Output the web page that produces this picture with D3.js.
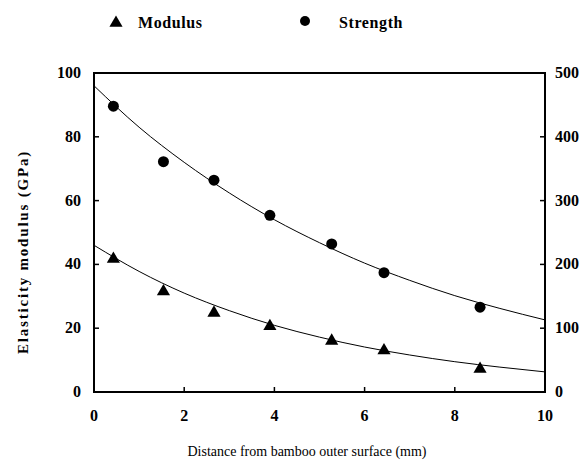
<!DOCTYPE html>
<html>
<head>
<meta charset="utf-8">
<script src="https://cdn.jsdelivr.net/npm/d3@7"></script>
<style>
  body { margin: 0; background: #fff; }
  text { font-family: "Liberation Serif", "DejaVu Serif", serif; fill: #000; }
  .tick-label { font-size: 16px; font-weight: bold; }
</style>
</head>
<body>
<svg id="chart" width="588" height="465"></svg>
<script>
// measured points
const distance = [0.43, 1.54, 2.66, 3.9, 5.27, 6.43, 8.56];
const modulus = [41.7, 31.5, 24.8, 20.6, 16.0, 13.0, 7.2];      // GPa, left axis
const strength = [448, 361, 332, 277, 232, 187, 133];           // MPa, right axis

// fitted curves
const fitX = [0, 1, 2, 3, 4, 5, 6, 7, 8, 9, 10];
const modulusFit = [46, 37.8, 31.0, 25.5, 20.9, 17.2, 14.1, 11.6, 9.5, 7.8, 6.3];
const strengthFit = [480, 415, 360, 312, 270, 234, 202, 175, 151, 131, 113];

const xTicks = [0, 2, 4, 6, 8, 10];
const leftTicks = [0, 20, 40, 60, 80, 100];
const rightTicks = [0, 100, 200, 300, 400, 500];

const svg = d3.select("#chart");
const pLeft = 94, pRight = 545, pTop = 73, pBottom = 392;

const x = d3.scaleLinear().domain([0, 10]).range([pLeft, pRight]);
const yL = d3.scaleLinear().domain([0, 100]).range([pBottom, pTop]);
const yR = d3.scaleLinear().domain([0, 500]).range([pBottom, pTop]);

// frame
svg.append("rect")
  .attr("x", pLeft).attr("y", pTop)
  .attr("width", pRight - pLeft).attr("height", pBottom - pTop)
  .attr("fill", "none").attr("stroke", "#000").attr("stroke-width", 2);

// inward ticks
let g = svg.append("g").attr("stroke", "#000").attr("stroke-width", 1.5);
leftTicks.slice(1, -1).forEach(t => {
  g.append("line").attr("x1", pLeft).attr("x2", pLeft + 5).attr("y1", yL(t)).attr("y2", yL(t));
});
rightTicks.slice(1, -1).forEach(t => {
  g.append("line").attr("x1", pRight).attr("x2", pRight - 5).attr("y1", yR(t)).attr("y2", yR(t));
});
xTicks.slice(1, -1).forEach(t => {
  g.append("line").attr("x1", x(t)).attr("x2", x(t)).attr("y1", pBottom).attr("y2", pBottom - 5);
});

// tick labels
svg.selectAll(".yl").data(leftTicks).enter().append("text")
  .attr("class", "tick-label")
  .attr("x", pLeft - 13).attr("y", d => yL(d) + 5)
  .attr("text-anchor", "end")
  .text(d => d);
svg.selectAll(".yr").data(rightTicks).enter().append("text")
  .attr("class", "tick-label")
  .attr("x", pRight + 10).attr("y", d => yR(d) + 5)
  .attr("text-anchor", "start")
  .text(d => d);
svg.selectAll(".xl").data(xTicks).enter().append("text")
  .attr("class", "tick-label")
  .attr("x", d => x(d)).attr("y", pBottom + 29)
  .attr("text-anchor", "middle")
  .text(d => d);

// axis titles
svg.append("text")
  .attr("transform", "translate(28,252) rotate(-90)")
  .attr("text-anchor", "middle")
  .style("font-size", "15px").style("font-weight", "bold").style("letter-spacing", "1.8px")
  .text("Elasticity modulus (GPa)");
svg.append("text")
  .attr("x", 307).attr("y", 456)
  .attr("text-anchor", "middle")
  .style("font-size", "14px")
  .text("Distance from bamboo outer surface (mm)");

// fit lines
const lineL = d3.line().x((d, i) => x(fitX[i])).y(d => yL(d)).curve(d3.curveMonotoneX);
const lineR = d3.line().x((d, i) => x(fitX[i])).y(d => yR(d)).curve(d3.curveMonotoneX);
svg.append("path").attr("d", lineL(modulusFit))
  .attr("fill", "none").attr("stroke", "#000").attr("stroke-width", 1);
svg.append("path").attr("d", lineR(strengthFit))
  .attr("fill", "none").attr("stroke", "#000").attr("stroke-width", 1);

// markers
const tri = d3.symbol().type(d3.symbolTriangle).size(75);
svg.selectAll(".mod").data(modulus).enter().append("path")
  .attr("d", tri)
  .attr("transform", (d, i) => "translate(" + x(distance[i]) + "," + yL(d) + ")")
  .attr("fill", "#000");
svg.selectAll(".str").data(strength).enter().append("circle")
  .attr("cx", (d, i) => x(distance[i])).attr("cy", d => yR(d))
  .attr("r", 5.5).attr("fill", "#000");

// legend
svg.append("path").attr("d", tri).attr("transform", "translate(116,23)").attr("fill", "#000");
svg.append("text").attr("x", 138).attr("y", 28)
  .style("font-size", "16px").style("font-weight", "bold").style("letter-spacing", "0.6px")
  .text("Modulus");
svg.append("circle").attr("cx", 305).attr("cy", 21).attr("r", 5).attr("fill", "#000");
svg.append("text").attr("x", 339).attr("y", 28)
  .style("font-size", "16px").style("font-weight", "bold").style("letter-spacing", "0.6px")
  .text("Strength");
</script>
</body>
</html>
